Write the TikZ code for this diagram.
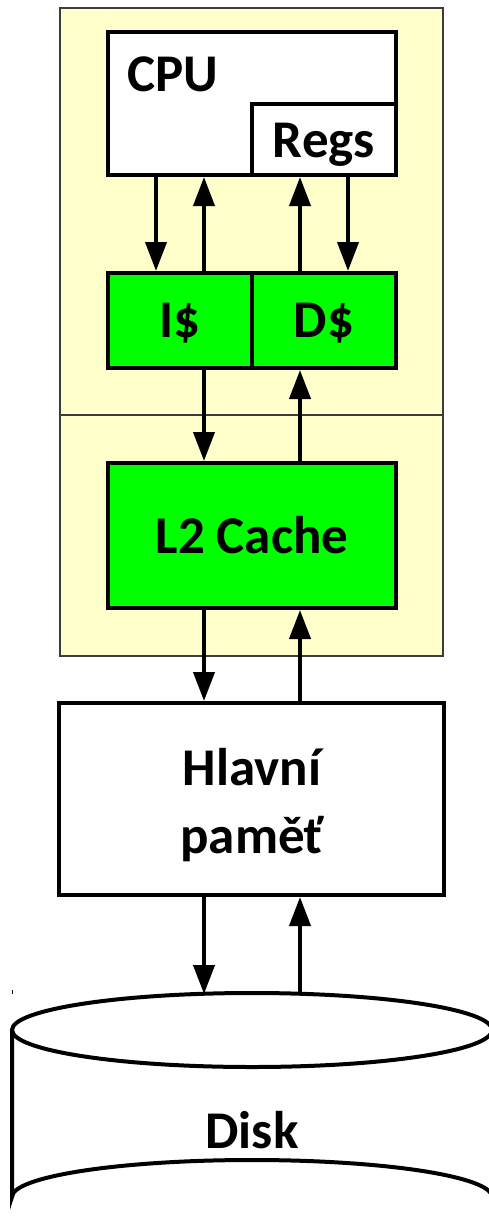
\documentclass[tikz,border=0pt]{standalone}
\usepackage{fontspec}
\setmainfont{Carlito}
\usetikzlibrary{arrows.meta}
\definecolor{paleyellow}{HTML}{FFFFCC}
\definecolor{cachegreen}{HTML}{00FF00}
\definecolor{frameline}{HTML}{3C3C3C}
\tikzset{
  unit/.style={draw=black, line width=4pt, minimum width=#1, inner sep=0pt},
  lbl/.style={font=\fontsize{53}{68}\selectfont\bfseries, inner sep=0pt, anchor=base},
  flow/.style={line width=4pt, -{Triangle[length=29pt,width=21pt]}},
  chip/.style={fill=paleyellow, draw=frameline, line width=1.8pt},
}
\begin{document}
\begin{tikzpicture}[x=1pt,y=-1pt]
\useasboundingbox (0,0) rectangle (489,1231);
\clip (0,0) rectangle (489,1231);

% processor chip: upper part (L1) and lower part (L2)
\draw[chip] (60,8) rectangle (443,415);
\draw[chip] (60,415) rectangle (443,656);

% CPU with its registers
\node[unit=288pt, minimum height=143pt, fill=white] (cpu) at (252,103.5) {};
\node[unit=144pt, minimum height=71pt, fill=white] (regs) at (324,139.5) {};
\node[lbl, anchor=base west] (cpulbl) at (127,92) {CPU};
\node[lbl] (regslbl) at (324,157) {Regs};

% L1 caches
\node[unit=144pt, minimum height=95pt, fill=cachegreen] (icache) at (180,320.5) {};
\node[unit=144pt, minimum height=95pt, fill=cachegreen] (dcache) at (324,320.5) {};
\node[lbl] (ilbl) at (180,337) {I\$};
\node[lbl] (dlbl) at (324,337) {D\$};

% L2 cache
\node[unit=288pt, minimum height=145pt, fill=cachegreen] (ltwo) at (252,535.5) {};
\node[lbl] (ltwolbl) at (252,553) {L2 Cache};

% main memory
\node[unit=385pt, minimum height=192pt, fill=white] (mem) at (251.5,799) {};
\node[lbl] (memlbl1) at (252,785) {Hlavní};
\node[lbl] (memlbl2) at (252,853) {paměť};

% disk drawn as a cylinder
\filldraw[fill=white, line width=4pt]
  (12,1030) -- (12,1197) arc[start angle=180, end angle=360, x radius=240, y radius=37]
  -- (492,1030);
\filldraw[fill=white, line width=4pt] (252,1030) ellipse[x radius=240, y radius=37];
\node[lbl] (disklbl) at (252,1148) {Disk};
\coordinate (diskin) at (204,994);
\coordinate (diskout) at (300,994);
\draw[line width=0.8pt] (12,990) -- (12,994);

% CPU <-> L1
\draw[flow] (cpu.south -| 156,0) -- (icache.north -| 156,0);
\draw[flow] (icache.north -| 204,0) -- (cpu.south -| 204,0);
\draw[flow] (dcache.north -| 300,0) -- (regs.south -| 300,0);
\draw[flow] (regs.south -| 348,0) -- (dcache.north -| 348,0);

% L1 <-> L2
\draw[flow] (icache.south -| 204,0) -- (ltwo.north -| 204,0);
\draw[flow] (ltwo.north -| 300,0) -- (dcache.south -| 300,0);

% L2 <-> main memory
\draw[flow] (ltwo.south -| 204,0) -- (mem.north -| 204,0);
\draw[flow] (mem.north -| 300,0) -- (ltwo.south -| 300,0);

% main memory <-> disk
\draw[flow] (mem.south -| 204,0) -- (diskin);
\draw[flow] (diskout) -- (mem.south -| 300,0);
\end{tikzpicture}
\end{document}
